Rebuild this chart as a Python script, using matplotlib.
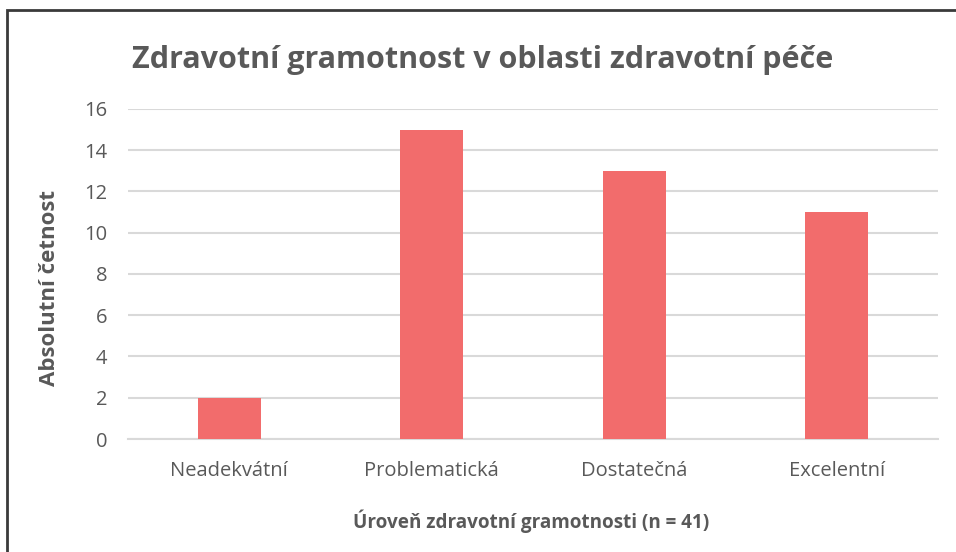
import matplotlib
matplotlib.use("Agg")
import matplotlib.pyplot as plt
from matplotlib.patches import Rectangle

categories = ["Neadekvátní", "Problematická", "Dostatečná", "Excelentní"]
counts = [2, 15, 13, 11]
yticks = [0, 2, 4, 6, 8, 10, 12, 14, 16]

title = "Zdravotní gramotnost v oblasti zdravotní péče"
xlabel = "Úroveň zdravotní gramotnosti (n = 41)"
ylabel = "Absolutní četnost"

plt.rcParams['font.family'] = ['Open Sans', 'DejaVu Sans']
textColor = '#595959'
gridColor = '#D9D9D9'
barColor = '#F26C6C'

fig = plt.figure(figsize=(9.56, 5.52), dpi=100)
ax = fig.add_axes([0.134, 0.2047, 0.847, 0.598])

x = list(range(len(categories)))
ax.bar(x, counts, width=0.31, color=barColor, zorder=3)

ax.set_xlim(-0.5, len(categories) - 0.5)
ax.set_ylim(0, 16)
ax.set_yticks(yticks)
ax.set_xticks(x)
ax.set_xticklabels(categories)
ax.grid(axis='y', color=gridColor, linewidth=1.5, zorder=0)
ax.tick_params(length=0, labelsize=14.5, labelcolor=textColor)
ax.tick_params(axis='y', pad=15)
ax.tick_params(axis='x', pad=16)
for side in ['top', 'right', 'left']:
    ax.spines[side].set_visible(False)
ax.spines['bottom'].set_color(gridColor)
ax.spines['bottom'].set_linewidth(1.5)

fig.text(0.505, 0.892, title, ha='center', va='center', fontsize=22,
         fontweight='bold', color=textColor)
fig.text(0.556, 0.055, xlabel, ha='center', va='center', fontsize=13.6,
         fontweight='bold', color=textColor)
fig.text(0.052, 0.479, ylabel, ha='center', va='center', fontsize=16,
         fontweight='bold', color=textColor, rotation=90)

# outer frame (only top and left edges visible in the crop)
fig.patches.append(Rectangle((0.0078, -0.1), 1.2, 1.081, transform=fig.transFigure,
                             fill=False, edgecolor='#3a3a3a', linewidth=2))

fig.savefig("out.png", dpi=100)
